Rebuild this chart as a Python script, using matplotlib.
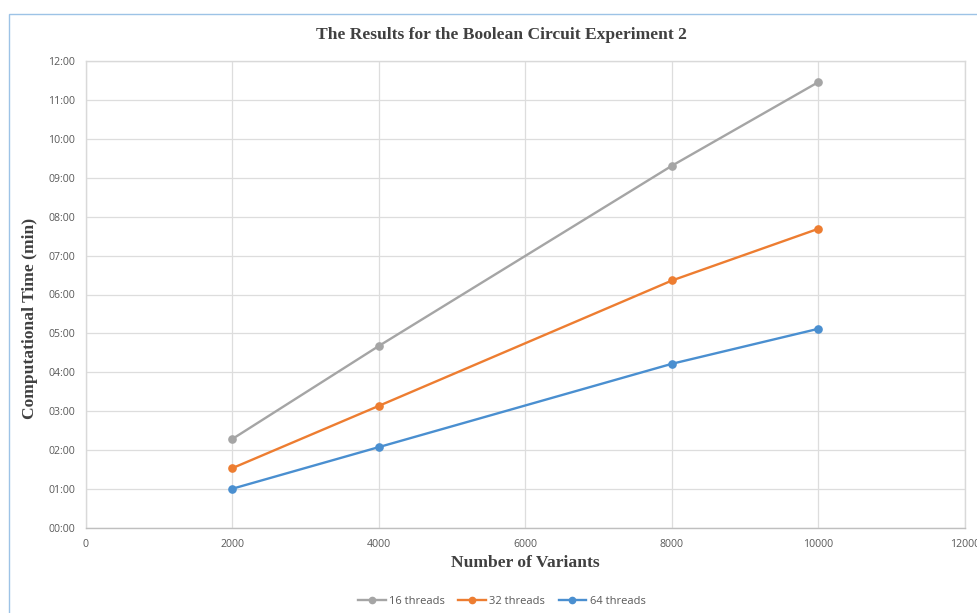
import matplotlib
matplotlib.use("Agg")
import matplotlib.pyplot as plt
from matplotlib.ticker import FuncFormatter, MultipleLocator
from matplotlib.lines import Line2D
from matplotlib.patches import Rectangle

variants = [2000, 4000, 8000, 10000]
threads16 = [2.29, 4.68, 9.31, 11.46]
threads32 = [1.54, 3.14, 6.36, 7.69]
threads64 = [1.01, 2.08, 4.22, 5.12]
labels = ["16 threads", "32 threads", "64 threads"]
colors = ["#A5A5A5", "#ED7D31", "#4A8FD0"]

fig = plt.figure(figsize=(9.78, 6.13), dpi=100)
ax = fig.add_axes([86/978, 85/613, (965-86)/978, (528-61)/613])

for vals, lab, c in zip([threads16, threads32, threads64], labels, colors):
    ax.plot(variants, vals, color=c, lw=1.7, marker="o", ms=5.2, label=lab, zorder=3)

ax.set_xlim(0, 12000)
ax.set_ylim(0, 12)
ax.xaxis.set_major_locator(MultipleLocator(2000))
ax.yaxis.set_major_locator(MultipleLocator(1))
ax.yaxis.set_major_formatter(FuncFormatter(lambda v, p: f"{int(round(v)):02d}:00"))
ax.grid(True, color="#DDDDDD", lw=0.9)
ax.set_axisbelow(True)
for s in ax.spines.values():
    s.set_color("#D9D9D9")
    s.set_linewidth(1)
ax.spines["bottom"].set_color("#BFBFBF")
ax.tick_params(length=0, labelsize=7.6, labelcolor="#595959", pad=8)
for t in ax.get_xticklabels() + ax.get_yticklabels():
    t.set_fontfamily("Open Sans")

fig.text(501/978, 1 - 35/613, "The Results for the Boolean Circuit Experiment 2", fontsize=12.6,
         fontweight="bold", family="Liberation Serif", color="#404040", ha="center", va="center")
ax.set_xlabel("Number of Variants", fontsize=12.6, fontweight="bold",
              family="Liberation Serif", color="#404040")
ax.xaxis.set_label_coords(0.5, (528 - 563) / 467)
ax.xaxis.label.set_va("center")
ax.set_ylabel("Computational Time (min)", fontsize=12.6, fontweight="bold",
              family="Liberation Serif", color="#404040")
ax.yaxis.set_label_coords((30 - 86) / 879, (528 - 318) / 467)
ax.yaxis.label.set_va("center")

handles = [Line2D([0], [0], color=c, lw=1.7, marker="o", ms=4.5) for c in colors]
fig.legend(handles, labels, loc="center", bbox_to_anchor=(0.513, 1 - 601/613),
           ncol=3, frameon=False, prop={"family": "Open Sans", "size": 8},
           labelcolor="#595959", handlelength=2.5, columnspacing=1.2, handletextpad=0.3)

fig.patches.append(Rectangle((9/978, -0.1), 1.2, 1 - 14/613 + 0.1, transform=fig.transFigure,
                             fill=False, edgecolor="#9DC3E6", lw=1))

fig.savefig("out.png", dpi=100)
